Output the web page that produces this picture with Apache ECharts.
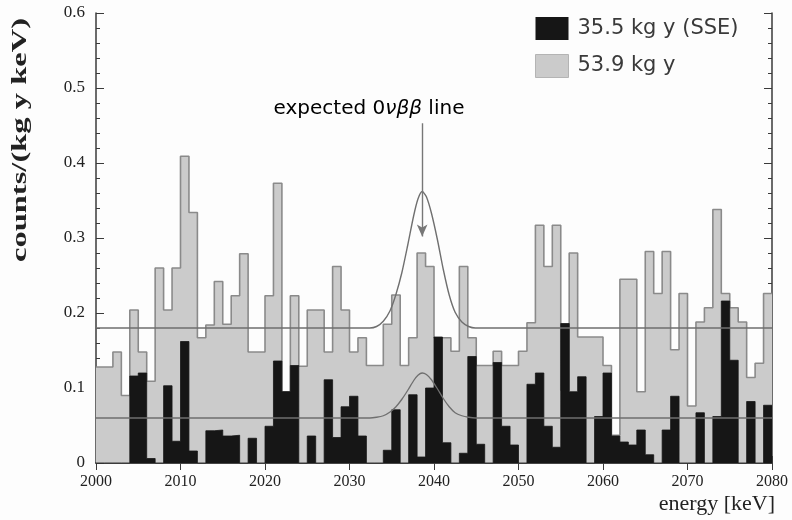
<!DOCTYPE html>
<html>
<head>
<meta charset="utf-8">
<script src="https://cdn.jsdelivr.net/npm/echarts@6/dist/echarts.min.js"></script>
<style>
html,body{margin:0;padding:0;background:#fdfdfd;}
#chart{width:792px;height:520px;}
</style>
</head>
<body>
<div id="chart"></div>
<script>
// ---- data ----
const binWidth = 1; // keV
const xTickLabels = [2000, 2010, 2020, 2030, 2040, 2050, 2060, 2070, 2080];
const yTickLabels = [0, 0.1, 0.2, 0.3, 0.4, 0.5, 0.6];
const seriesNames = ['35.5 kg y (SSE)', '53.9 kg y'];

// counts/(kg y keV) per 1 keV bin, starting at 2000 keV
const fullCounts = [
  0.128, 0.128, 0.148, 0.090, 0.204, 0.148, 0.109, 0.260, 0.204, 0.260,
  0.409, 0.334, 0.167, 0.184, 0.242, 0.185, 0.223, 0.279, 0.148, 0.148,
  0.223, 0.373, 0.095, 0.223, 0.129, 0.204, 0.204, 0.148, 0.262, 0.204,
  0.148, 0.167, 0.130, 0.130, 0.185, 0.224, 0.130, 0.167, 0.280, 0.262,
  0.167, 0.167, 0.149, 0.262, 0.167, 0.130, 0.130, 0.149, 0.130, 0.130,
  0.149, 0.187, 0.317, 0.262, 0.317, 0.097, 0.280, 0.168, 0.168, 0.168,
  0.130, 0.037, 0.245, 0.245, 0.095, 0.282, 0.226, 0.282, 0.151, 0.226,
  0.076, 0.188, 0.207, 0.338, 0.226, 0.207, 0.188, 0.114, 0.133, 0.226
];
const sseCounts = [
  0, 0, 0, 0, 0.116, 0.120, 0.006, 0, 0.103, 0.029,
  0.162, 0.016, 0, 0.043, 0.044, 0.036, 0.037, 0, 0.033, 0,
  0.049, 0.136, 0.095, 0.130, 0, 0.036, 0, 0.111, 0.034, 0.075,
  0.089, 0.036, 0, 0, 0.017, 0.071, 0, 0.091, 0.008, 0.100,
  0.168, 0.027, 0, 0.013, 0.142, 0.025, 0, 0.134, 0.049, 0.024,
  0, 0.105, 0.120, 0.049, 0.021, 0.186, 0.095, 0.115, 0, 0.062,
  0.120, 0.036, 0.028, 0.024, 0.044, 0.011, 0, 0.044, 0.089, 0,
  0, 0.067, 0, 0.062, 0.216, 0.137, 0, 0.082, 0, 0.077
];

// expected-line curves, points
const curveEnergy = [2000, 2032.4, 2033.2, 2034.0, 2034.8, 2035.5, 2036.2, 2036.9, 2037.6, 2038.1, 2038.6, 2039.1, 2039.7, 2040.4, 2041.1, 2041.8, 2042.5, 2043.3, 2044.1, 2044.9, 2080];
const upperCurve  = [0.180, 0.180, 0.182, 0.189, 0.203, 0.225, 0.254, 0.291, 0.330, 0.352, 0.362, 0.355, 0.333, 0.298, 0.258, 0.224, 0.201, 0.188, 0.182, 0.180, 0.180];
const lowerCurve  = [0.060, 0.060, 0.061, 0.063, 0.068, 0.075, 0.085, 0.097, 0.110, 0.117, 0.120, 0.118, 0.111, 0.099, 0.086, 0.075, 0.067, 0.063, 0.061, 0.060, 0.060];

// annotation arrow
const lineEnergy = 2038.6;
const arrowFrom = 0.453;
const arrowTo = 0.302;

// ---- build ----
const xMin = xTickLabels[0];
const xMax = xTickLabels[xTickLabels.length - 1];
const xStep = xTickLabels[1] - xTickLabels[0];
const yMin = yTickLabels[0];
const yMax = yTickLabels[yTickLabels.length - 1];
const yStep = +(yTickLabels[1] - yTickLabels[0]).toFixed(3);

function stepData(counts) {
  const d = counts.map((v, i) => [xMin + i * binWidth, v]);
  d.push([xMin + counts.length * binWidth, counts[counts.length - 1]]);
  return d;
}
function curveData(ys) {
  return curveEnergy.map((e, i) => [e, ys[i]]);
}

const serif = '"Liberation Serif", "Times New Roman", serif';
const sans = '"DejaVu Sans", sans-serif';
const axisColor = '#3a3a3a';

const chart = echarts.init(document.getElementById('chart'), null, {renderer: 'canvas'});

const option = {
  backgroundColor: '#fdfdfd',
  animation: false,
  grid: {left: 96, right: 20, top: 13, bottom: 57, containLabel: false},
  legend: {
    orient: 'vertical',
    left: 535,
    top: 17,
    padding: 0,
    itemWidth: 33,
    itemHeight: 23,
    itemGap: 14,
    selectedMode: false,
    textStyle: {fontFamily: sans, fontSize: 21, color: '#3a3a3a', padding: [0, 0, 0, 4]},
    data: [
      {name: seriesNames[0], icon: 'rect', itemStyle: {color: '#161616', borderWidth: 0}},
      {name: seriesNames[1], icon: 'rect', itemStyle: {color: '#cbcbcb', borderColor: '#b4b4b4', borderWidth: 1}}
    ]
  },
  xAxis: [
    {
      type: 'value', position: 'bottom', min: xMin, max: xMax, interval: xStep,
      axisLine: {show: true, lineStyle: {color: axisColor, width: 1.5}},
      axisTick: {show: true, inside: true, length: 7, lineStyle: {color: axisColor}},
      axisLabel: {fontFamily: serif, fontSize: 16, color: '#222', margin: 11, formatter: v => String(v)},
      splitLine: {show: false}
    },
    {
      type: 'value', position: 'top', min: xMin, max: xMax, interval: xStep,
      axisLine: {show: true, lineStyle: {color: axisColor, width: 1.5}},
      axisTick: {show: true, inside: true, length: 7, lineStyle: {color: axisColor}},
      axisLabel: {show: false},
      splitLine: {show: false}
    }
  ],
  yAxis: [
    {
      type: 'value', position: 'left', min: yMin, max: yMax, interval: yStep,
      axisLine: {show: true, lineStyle: {color: axisColor, width: 1.5}},
      axisTick: {show: true, inside: true, length: 8, lineStyle: {color: axisColor}},
      minorTick: {show: true, splitNumber: 5, length: 4, lineStyle: {color: axisColor}},
      axisLabel: {fontFamily: serif, fontSize: 17, color: '#222', margin: 11, formatter: v => String(v)},
      splitLine: {show: false}
    },
    {
      type: 'value', position: 'right', min: yMin, max: yMax, interval: yStep,
      axisLine: {show: true, lineStyle: {color: axisColor, width: 1.5}},
      axisTick: {show: true, inside: true, length: 8, lineStyle: {color: axisColor}},
      minorTick: {show: true, splitNumber: 5, length: 4, lineStyle: {color: axisColor}},
      axisLabel: {show: false},
      splitLine: {show: false}
    }
  ],
  series: [
    {
      name: seriesNames[1], type: 'line', step: 'end', data: stepData(fullCounts),
      xAxisIndex: 0, yAxisIndex: 0, symbol: 'none', z: 2,
      itemStyle: {color: '#cbcbcb'},
      lineStyle: {color: '#8a8a8a', width: 1.6},
      areaStyle: {color: '#cbcbcb', opacity: 1}
    },
    {
      name: seriesNames[0], type: 'line', step: 'end', data: stepData(sseCounts),
      xAxisIndex: 0, yAxisIndex: 0, symbol: 'none', z: 3,
      itemStyle: {color: '#161616'},
      lineStyle: {color: '#161616', width: 0.8},
      areaStyle: {color: '#161616', opacity: 1}
    },
    {
      name: 'expected line (53.9 kg y)', type: 'line', data: curveData(upperCurve),
      xAxisIndex: 0, yAxisIndex: 0, symbol: 'none', smooth: 0.25, z: 4,
      lineStyle: {color: '#6f6f6f', width: 1.4},
      markLine: {
        silent: true,
        symbol: ['none', 'arrow'],
        symbolSize: [8, 12],
        label: {show: false},
        lineStyle: {color: '#777', width: 1.4, type: 'solid'},
        data: [[{coord: [lineEnergy, arrowFrom]}, {coord: [lineEnergy, arrowTo]}]]
      }
    },
    {
      name: 'expected line (SSE)', type: 'line', data: curveData(lowerCurve),
      xAxisIndex: 0, yAxisIndex: 0, symbol: 'none', smooth: 0.25, z: 4,
      lineStyle: {color: '#6f6f6f', width: 1.3}
    }
  ],
  graphic: [
    {
      type: 'text', x: 21, y: 140, rotation: Math.PI / 2, scaleX: 1.55,
      style: {text: 'counts/(kg y keV)', font: 'bold 21px ' + serif, fill: '#222', textAlign: 'center', textVerticalAlign: 'middle'}
    },
    {
      type: 'text', x: 775, y: 504,
      style: {text: 'energy [keV]', font: '22px ' + serif, fill: '#222', textAlign: 'right', textVerticalAlign: 'middle'}
    },
    {
      type: 'text', x: 369, y: 109,
      style: {
        text: '{a|expected 0}{b|νββ}{a| line}',
        textAlign: 'center', textVerticalAlign: 'middle',
        rich: {
          a: {fontFamily: sans, fontSize: 20, color: '#555'},
          b: {fontFamily: sans, fontSize: 20, fontStyle: 'italic', color: '#555'}
        }
      }
    }
  ]
};
chart.setOption(option);
</script>
</body>
</html>
